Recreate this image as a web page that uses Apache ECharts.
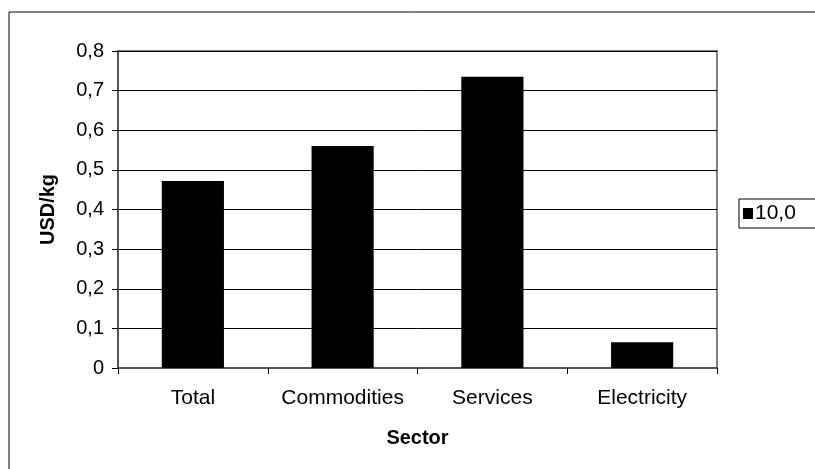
<!DOCTYPE html>
<html>
<head>
<meta charset="utf-8">
<script src="https://cdn.jsdelivr.net/npm/echarts@6/dist/echarts.min.js"></script>
<style>
html, body { margin: 0; padding: 0; background: #fff; }
#chart { width: 815px; height: 469px; }
</style>
</head>
<body>
<div id="chart"></div>
<script>
// data
var sectors = ['Total', 'Commodities', 'Services', 'Electricity'];
var values = [0.472, 0.56, 0.735, 0.065];
var seriesName = '10,0';

var font = '"Liberation Sans", Arial, sans-serif';
var myChart = echarts.init(document.getElementById('chart'));
var option = {
    animation: false,
    backgroundColor: '#fff',
    graphic: [{
        type: 'rect',
        shape: { x: 9, y: 12, width: 900, height: 600 },
        style: { fill: 'none', stroke: '#000', lineWidth: 1 },
        silent: true,
        z: -1
    }],
    legend: {
        data: [seriesName],
        left: 739,
        top: 199,
        orient: 'vertical',
        padding: [4, 40, 4, 4],
        borderColor: '#000',
        borderWidth: 1,
        icon: 'rect',
        itemWidth: 10,
        itemHeight: 11,
        textStyle: { fontFamily: font, fontSize: 21, color: '#000', padding: [0, 0, 0, -3] }
    },
    grid: {
        left: 118,
        right: 98,
        top: 51,
        bottom: 101,
        containLabel: false,
        show: true,
        borderColor: '#808080',
        borderWidth: 2
    },
    xAxis: {
        type: 'category',
        data: sectors,
        name: 'Sector',
        nameLocation: 'middle',
        nameGap: 60,
        nameTextStyle: { fontFamily: font, fontSize: 20, fontWeight: 'bold', color: '#000' },
        axisLine: { lineStyle: { color: '#555', width: 2 } },
        axisTick: { show: true, interval: 0, length: 6, lineStyle: { color: '#000' } },
        axisLabel: { interval: 0, fontFamily: font, fontSize: 21, color: '#000', margin: 20 }
    },
    yAxis: {
        type: 'value',
        min: 0,
        max: 0.8,
        interval: 0.1,
        name: 'USD/kg',
        nameLocation: 'middle',
        nameGap: 60,
        nameTextStyle: { fontFamily: font, fontSize: 20, fontWeight: 'bold', color: '#000' },
        axisLine: { show: true, lineStyle: { color: '#555', width: 2 } },
        axisTick: { show: true, length: 6, lineStyle: { color: '#000' } },
        axisLabel: {
            fontFamily: font, fontSize: 20, color: '#000', margin: 14,
            formatter: function (v) { return String(Math.round(v * 10) / 10).replace('.', ','); }
        },
        splitLine: { show: true, lineStyle: { color: '#000', width: 1 } }
    },
    series: [{
        name: seriesName,
        type: 'bar',
        data: values,
        barWidth: '41.5%',
        itemStyle: { color: '#000' }
    }]
};
myChart.setOption(option);
</script>
</body>
</html>
